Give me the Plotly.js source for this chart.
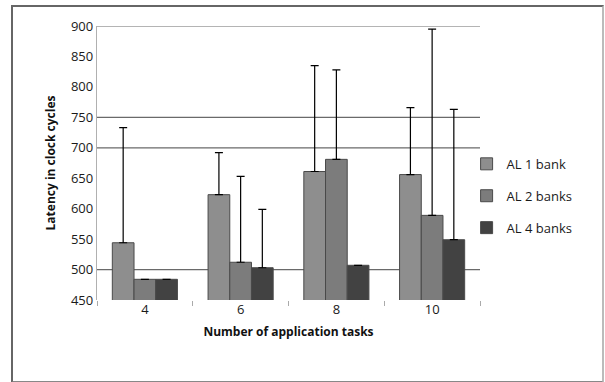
<!DOCTYPE html>
<html>
<head>
<meta charset="utf-8">
<script src="https://cdn.plot.ly/plotly-3.0.1.min.js"></script>
<style>
html,body{margin:0;padding:0;background:#fff;}
#wrap{position:relative;width:605px;height:382px;}
#chart{width:605px;height:382px;}
#frame{position:absolute;left:11px;top:5px;width:589px;height:374px;border:2px solid #666;border-right-color:#bbb;border-bottom-color:#888;pointer-events:none;}
</style>
</head>
<body>
<div id="wrap"><div id="chart"></div><div id="frame"></div></div>
<script>
var categories = ["4", "6", "8", "10"];
var seriesNames = ["AL 1 bank", "AL 2 banks", "AL 4 banks"];
var al1 = [544, 623, 661, 656];
var al2 = [484, 512, 681, 589];
var al4 = [484, 503, 507, 549];
var al1Err = [189, 69, 174, 110];
var al2Err = [0, 141, 147, 306];
var al4Err = [0, 96, 0, 214];
var gridValues = [500, 700, 750, 900];
var yTicks = [450, 500, 550, 600, 650, 700, 750, 800, 850, 900];

var colors = ["#8e8e8e", "#7c7c7c", "#424242"];
var values = [al1, al2, al4];
var errs = [al1Err, al2Err, al4Err];

var traces = seriesNames.map(function(name, i){
  return {
    type: "bar",
    name: name,
    legendgroup: "g" + i,
    x: categories,
    y: values[i],
    marker: {color: colors[i], line: {color: "#4a4a4a", width: 1}},
    error_y: {type: "data", array: errs[i], symmetric: false, arrayminus: errs[i].map(function(){return 0;}), color: "#000", thickness: 1.2, width: 4}
  };
});

var shapes = gridValues.map(function(v){
  return {type: "line", xref: "paper", yref: "y", x0: 0, x1: 1, y0: v, y1: v, line: {color: "#6a6a6a", width: 1.2}, layer: "below"};
});

var layout = {
  width: 605, height: 382,
  margin: {l: 97, r: 125, t: 26, b: 82},
  paper_bgcolor: "#fff", plot_bgcolor: "#fff",
  font: {family: "Open Sans, Liberation Sans, sans-serif", color: "#1a1a1a", size: 12},
  barmode: "group",
  bargap: 0.32,
  bargroupgap: 0,
  showlegend: true,
  legend: {x: 0.965, y: 0.38, xanchor: "left", yanchor: "middle", traceorder: "grouped", font: {size: 13, color: "#1a1a1a"}, tracegroupgap: 12, itemwidth: 30, bgcolor: "rgba(0,0,0,0)"},
  xaxis: {
    type: "category",
    showgrid: false, showline: false, zeroline: false,
    ticks: "outside", tickson: "boundaries", ticklen: 5, tickcolor: "#aaa",
    tickfont: {size: 13, color: "#1a1a1a"},
    title: {text: "<b>Number of application tasks</b>", font: {size: 12, color: "#111"}, standoff: 10}
  },
  yaxis: {
    range: [450, 900],
    tickvals: yTicks,
    showgrid: false, zeroline: false,
    showline: true, linecolor: "#b0b0b0", linewidth: 1.2,
    ticks: "", ticklen: 0,
    tickfont: {size: 13, color: "#1a1a1a"},
    title: {text: "<b>Latency in clock cycles</b>", font: {size: 12, color: "#111"}, standoff: 12}
  },
  shapes: shapes
};

Plotly.newPlot("chart", traces, layout, {staticPlot: true, displayModeBar: false});
</script>
</body>
</html>
